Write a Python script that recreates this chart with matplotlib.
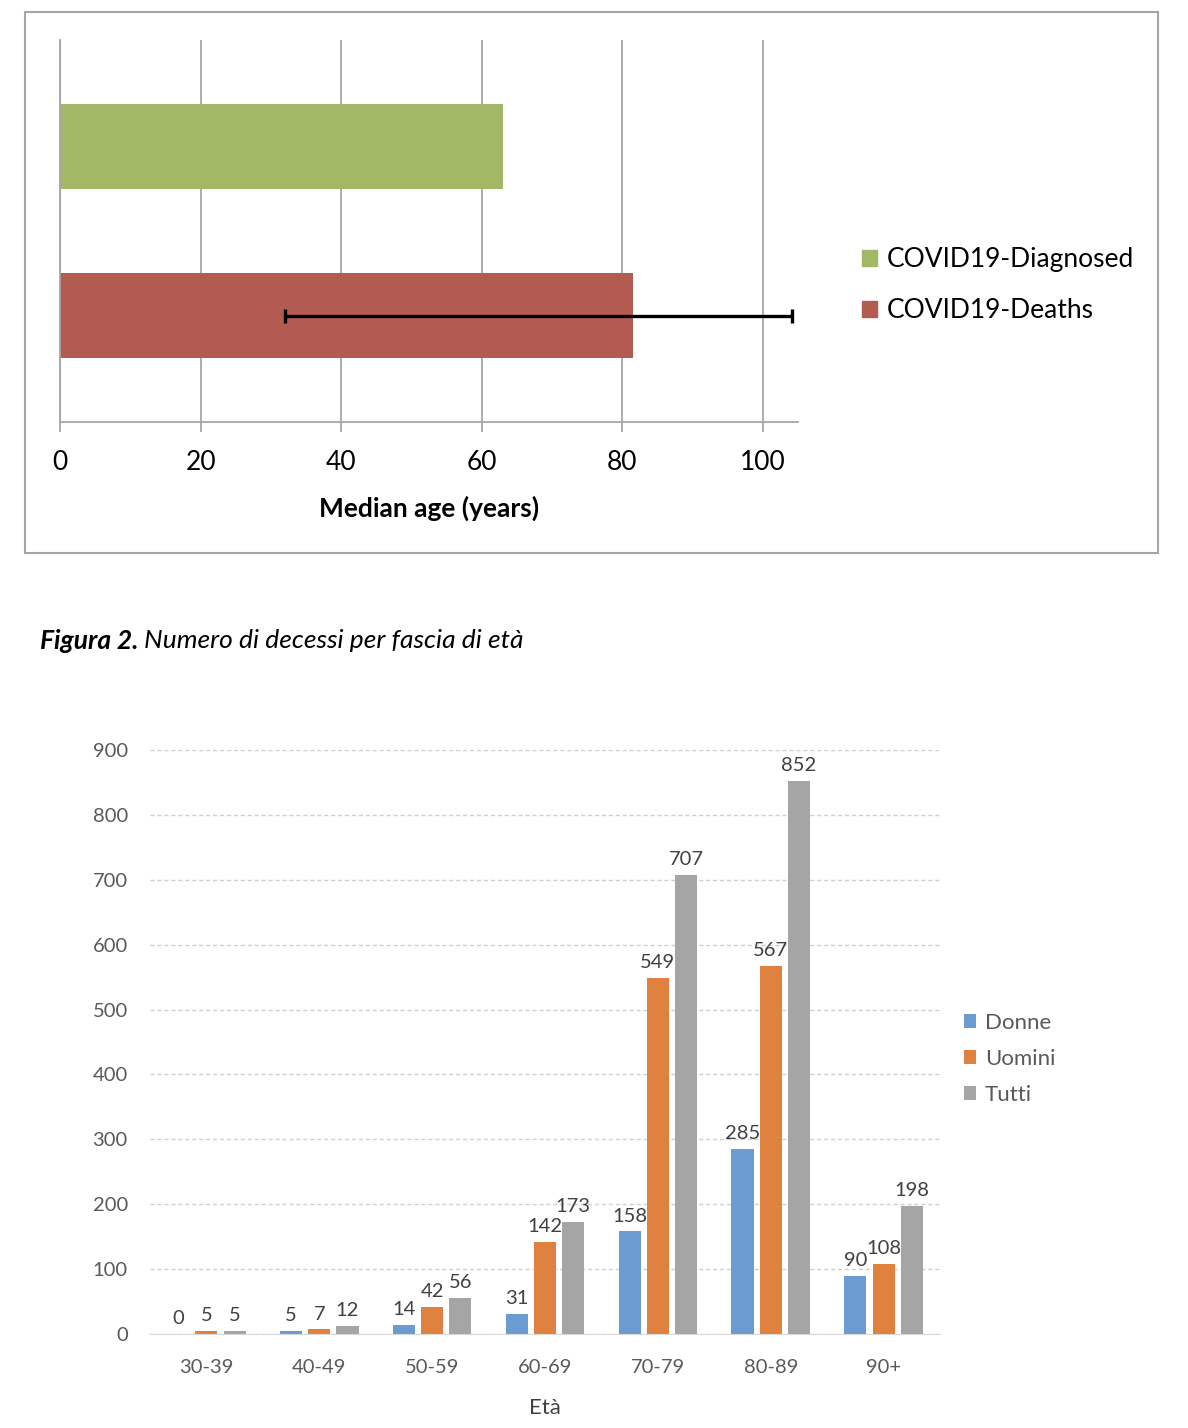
import numpy as np
import matplotlib
matplotlib.use("Agg")
import matplotlib.pyplot as plt
from matplotlib.patches import Rectangle, Patch

plt.rcParams["font.family"] = ["Lato", "DejaVu Sans"]

# top chart: median age
groups = ["COVID19-Deaths", "COVID19-Diagnosed"]
median_age = [81.5, 63.0]
death_low = 32.0
death_high = 104.1
top_colors = ["#B35A51", "#A3B867"]

# bottom chart: deaths per age band
age_bands = ["30-39", "40-49", "50-59", "60-69", "70-79", "80-89", "90+"]
donne = [0, 5, 14, 31, 158, 285, 90]
uomini = [5, 7, 42, 142, 549, 567, 108]
tutti = [5, 12, 56, 173, 707, 852, 198]

fig = plt.figure(figsize=(11.88, 14.28), dpi=100)

# frame around first chart
fig.patches.append(Rectangle((25 / 1188, 1 - 553 / 1428), 1133 / 1188, 541 / 1428,
                             transform=fig.transFigure, fill=False,
                             edgecolor="#A6A6A6", linewidth=1.5))

ax1 = fig.add_axes([60 / 1188, 1 - 422 / 1428, 738 / 1188, 382 / 1428])
y = np.arange(len(groups))
ax1.barh(y, median_age, height=0.5, color=top_colors, zorder=2)
ax1.errorbar(median_age[0], y[0],
             xerr=[[median_age[0] - death_low], [death_high - median_age[0]]],
             fmt="none", ecolor="black", elinewidth=2.4, capsize=5, capthick=2.4, zorder=3)
ax1.set_xlim(0, 105)
ax1.set_ylim(-0.63, 1.63)
ax1.set_xticks([0, 20, 40, 60, 80, 100])
ax1.set_yticks([])
ax1.grid(axis="x", color="#A6A6A6", linewidth=1.3, zorder=0)
for s in ["top", "right"]:
    ax1.spines[s].set_visible(False)
ax1.spines["left"].set_color("#A6A6A6")
ax1.spines["left"].set_linewidth(1.3)
ax1.spines["bottom"].set_color("#A6A6A6")
ax1.spines["bottom"].set_linewidth(1.3)
ax1.tick_params(axis="x", length=7, width=1.3, color="#A6A6A6", labelsize=19, pad=13)
ax1.set_xlabel("Median age (years)", fontsize=19, fontweight="bold", labelpad=15)

handles = [Patch(color=top_colors[1], label=groups[1]), Patch(color=top_colors[0], label=groups[0])]
fig.legend(handles=handles, loc="center left", bbox_to_anchor=(862 / 1188, 1 - 285 / 1428),
           frameon=False, fontsize=19, handlelength=0.55, handleheight=0.55,
           handletextpad=0.4, labelspacing=0.98, borderpad=0, borderaxespad=0)

# caption
renderer = fig.canvas.get_renderer()
t1 = fig.text(40 / 1188, 1 - 641 / 1428, "Figura 2.", fontsize=19, fontstyle="italic",
              fontweight="bold", va="center", ha="left")
bb = t1.get_window_extent(renderer)
fig.text((bb.x1 + 6) / 1188, 1 - 641 / 1428, "Numero di decessi per fascia di età",
         fontsize=19, fontstyle="italic", va="center", ha="left")

# second chart
ax2 = fig.add_axes([150 / 1188, 1 - 1334 / 1428, 790 / 1188, 584 / 1428])
x = np.arange(len(age_bands))
w = 0.195
off = 0.25
series = [(donne, "Donne", "#6A9BD1"), (uomini, "Uomini", "#E0823F"), (tutti, "Tutti", "#A5A5A5")]
for i, (vals, name, col) in enumerate(series):
    bars = ax2.bar(x + (i - 1) * off, vals, width=w, color=col, label=name, zorder=2)
    for rect, v in zip(bars, vals):
        ax2.annotate(str(v), (rect.get_x() + rect.get_width() / 2, v),
                     xytext=(0, 5), textcoords="offset points", ha="center", va="bottom",
                     fontsize=14.5, color="#404040")
ax2.set_xlim(-0.5, 6.5)
ax2.set_ylim(0, 900)
ax2.set_yticks(range(0, 1000, 100))
ax2.set_xticks(x)
ax2.set_xticklabels(age_bands)
ax2.grid(axis="y", color="#D0D0D0", linewidth=1, linestyle=(0, (3, 2)), zorder=0)
for s in ["top", "right", "left"]:
    ax2.spines[s].set_visible(False)
ax2.spines["bottom"].set_color("#D9D9D9")
ax2.tick_params(axis="both", length=0, labelsize=14.5, labelcolor="#595959")
ax2.tick_params(axis="y", pad=16)
ax2.tick_params(axis="x", pad=18)
ax2.set_xlabel("Età", fontsize=16, color="#404040", labelpad=16)

ax2.legend(loc="center left", bbox_to_anchor=(964 / 1188, 1 - 1059 / 1428),
           bbox_transform=fig.transFigure, frameon=False, fontsize=16,
           labelcolor="#595959", handlelength=0.55, handleheight=0.55,
           handletextpad=0.4, labelspacing=0.72, borderpad=0, borderaxespad=0)

fig.savefig("out.png", dpi=100, facecolor="white")
